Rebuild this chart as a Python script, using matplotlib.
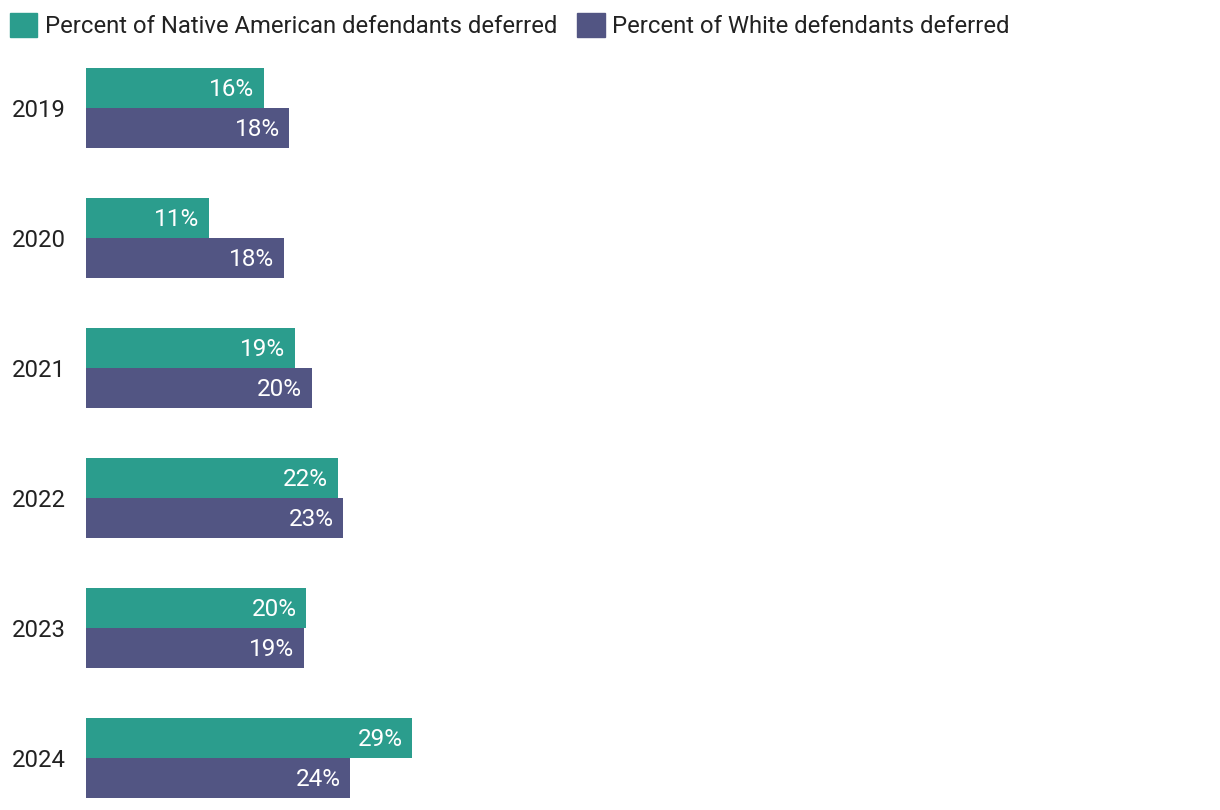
import matplotlib.pyplot as plt
from matplotlib.patches import Patch

plt.rcParams['font.family'] = ['Roboto', 'DejaVu Sans']

years = ['2019', '2020', '2021', '2022', '2023', '2024']
native = [15.8, 10.9, 18.6, 22.4, 19.6, 29.0]
white = [18.1, 17.6, 20.1, 22.9, 19.4, 23.5]

teal = '#2b9d8d'
purple = '#525583'

fig = plt.figure(figsize=(12.2, 8.1), dpi=100)
ax = fig.add_axes([86 / 1220, 12 / 810, 1124 / 1220, 730 / 810])

h = 40 / 130
ypos = list(range(len(years)))
b1 = ax.barh([y - h / 2 for y in ypos], native, height=h, color=teal)
b2 = ax.barh([y + h / 2 for y in ypos], white, height=h, color=purple)

# value labels inside the bar ends
for bars, vals in ((b1, native), (b2, white)):
    for bar, v in zip(bars, vals):
        ax.text(v - 0.85, bar.get_y() + bar.get_height() / 2 + 0.014, f'{round(v)}%',
                ha='right', va='center', color='white', fontsize=17.5)

ax.set_xlim(0, 100)
ax.set_ylim(len(years) - 1 + h, -h)
ax.set_yticks(ypos)
ax.set_yticklabels(years, fontsize=17.2, color='#222222')
ax.tick_params(axis='y', length=0, pad=14.5)
ax.set_xticks([])
for s in ax.spines.values():
    s.set_visible(False)

handles = [Patch(color=teal, label='Percent of Native American defendants deferred'),
           Patch(color=purple, label='Percent of White defendants deferred')]
fig.legend(handles=handles, loc='upper left', bbox_to_anchor=(10 / 1220, 1 - 13 / 810),
           ncol=2, frameon=False, fontsize=17.2, handlelength=1.15, handleheight=1.15,
           handletextpad=0.3, columnspacing=0.85, borderpad=0, borderaxespad=0,
           labelcolor='#222222')

fig.savefig('out.png', dpi=100)
